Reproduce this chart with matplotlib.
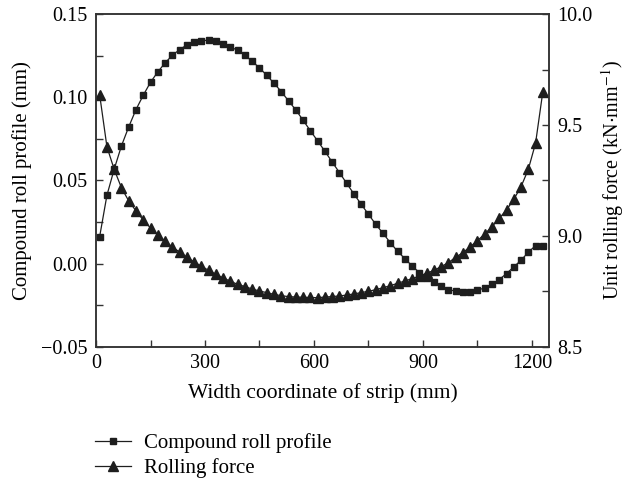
import numpy as np
import matplotlib
matplotlib.use("Agg")
from matplotlib import pyplot as plt
from matplotlib.ticker import MultipleLocator

# width coordinate of strip (mm)
width_mm = np.arange(10, 1231, 20)

# compound roll profile (mm), left axis
roll_profile = [
    0.0163, 0.0411, 0.0568, 0.0708, 0.0822, 0.0926, 0.1012, 0.1090, 0.1152, 0.1206,
    0.1252, 0.1286, 0.1314, 0.1334, 0.1340, 0.1342, 0.1336, 0.1322, 0.1302, 0.1282,
    0.1252, 0.1216, 0.1176, 0.1132, 0.1084, 0.1034, 0.0978, 0.0924, 0.0862, 0.0799,
    0.0738, 0.0676, 0.0611, 0.0548, 0.0483, 0.0419, 0.0357, 0.0297, 0.0237, 0.0183,
    0.0127, 0.0075, 0.0031, -0.0013, -0.0053, -0.0083, -0.0109, -0.0135, -0.0155, -0.0165,
    -0.0171, -0.0169, -0.0159, -0.0145, -0.0123, -0.0095, -0.0059, -0.0019, 0.0021, 0.0069,
    0.0109, 0.0109,
]

# unit rolling force (kN/mm), right axis
rolling_force = [
    9.636, 9.402, 9.300, 9.217, 9.158, 9.113, 9.072, 9.036, 9.005, 8.977,
    8.950, 8.928, 8.904, 8.883, 8.864, 8.845, 8.827, 8.811, 8.796, 8.782,
    8.772, 8.761, 8.752, 8.745, 8.737, 8.731, 8.727, 8.725, 8.724, 8.723,
    8.722, 8.725, 8.727, 8.730, 8.734, 8.739, 8.745, 8.751, 8.758, 8.767,
    8.776, 8.787, 8.797, 8.808, 8.820, 8.832, 8.845, 8.862, 8.880, 8.904,
    8.925, 8.952, 8.979, 9.009, 9.042, 9.080, 9.117, 9.165, 9.222, 9.300,
    9.418, 9.650,
]

plt.rcParams['font.family'] = ['Liberation Serif', 'DejaVu Serif']
plt.rcParams['font.size'] = 15
plt.rcParams['mathtext.fontset'] = 'stix'

fig = plt.figure(figsize=(6.26, 4.83), dpi=100)
ax = fig.add_axes([0.1534, 0.2816, 0.7236, 0.6894])
ax2 = ax.twinx()

dark = '#1e1e1e'
l1, = ax.plot(width_mm, roll_profile, color=dark, lw=0.9, marker='s', ms=4.6,
              mfc=dark, mec=dark, label='Compound roll profile')
l2, = ax2.plot(width_mm, rolling_force, color=dark, lw=0.9, marker='^', ms=6.8,
               mfc=dark, mec=dark, label='Rolling force')

ax.set_xlim(0, 1247)
ax.set_ylim(-0.05, 0.15)
ax2.set_ylim(8.5, 10.0)

ax.xaxis.set_major_locator(MultipleLocator(300))
ax.xaxis.set_minor_locator(MultipleLocator(150))
ax.yaxis.set_major_locator(MultipleLocator(0.05))
ax.yaxis.set_minor_locator(MultipleLocator(0.025))
ax2.yaxis.set_major_locator(MultipleLocator(0.5))
ax2.yaxis.set_minor_locator(MultipleLocator(0.25))
ax.yaxis.set_major_formatter(plt.FuncFormatter(lambda v, p: ('%.2f' % v).replace('-', '\u2212')))
ax2.yaxis.set_major_formatter(plt.FuncFormatter(lambda v, p: '%.1f' % v))

ax.tick_params(axis='both', which='both', direction='in', top=False, right=False,
               length=5, width=1.0, color='#333333', labelsize=14.5)
ax2.tick_params(axis='y', which='both', direction='in', length=5, width=1.0,
                color='#333333', labelsize=14.5)
ax.tick_params(axis='y', which='major', pad=6.5)
ax.tick_params(axis='x', which='major', pad=5)
ax2.tick_params(axis='y', which='major', pad=6)

for a in (ax, ax2):
    for s in a.spines.values():
        s.set_linewidth(1.1)
        s.set_color('#333333')

ax.set_xlabel('Width coordinate of strip (mm)', fontsize=15.5, labelpad=7)
ax.set_ylabel('Compound roll profile (mm)', fontsize=15, labelpad=6)
ax2.set_ylabel('Unit rolling force (kN$\\cdot$mm$^{-1}$)', fontsize=14.5, labelpad=5)

fig.legend(handles=[l1, l2], loc='upper left', bbox_to_anchor=(0.152, 0.103),
           frameon=False, numpoints=1, fontsize=15, handlelength=1.7,
           handletextpad=0.65, labelspacing=0.26, borderpad=0, borderaxespad=0)

fig.savefig('out.png', dpi=100)
